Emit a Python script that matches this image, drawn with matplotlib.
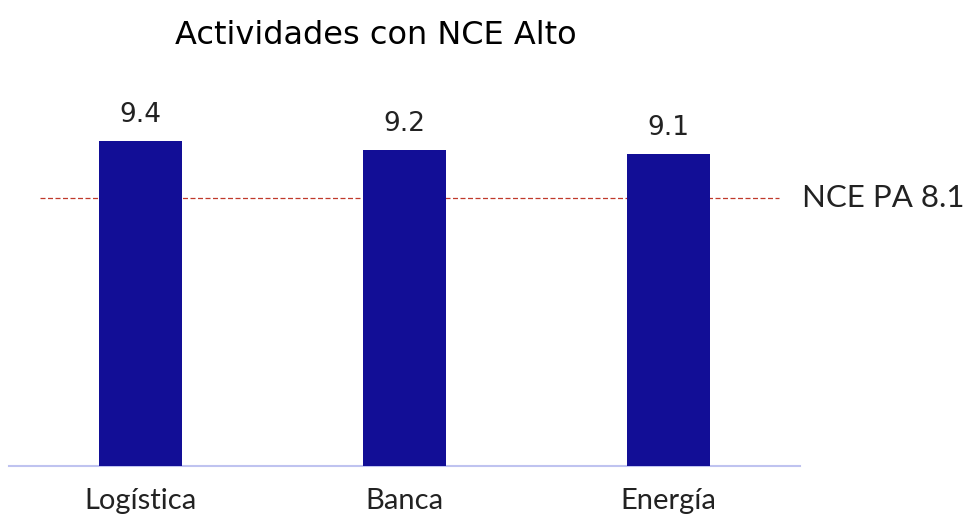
import matplotlib.pyplot as plt

# datos del gráfico
categorias = ["Logística", "Banca", "Energía"]
valores = [9.4, 9.2, 9.1]
nce_pa = 8.1
titulo = "Actividades con NCE Alto"

color_barra = "#120E96"
color_linea = "#C0392B"

fig = plt.figure(figsize=(9.68, 5.23), dpi=100)
ax = fig.add_axes([0.0093, 0.1096, 0.817, 0.713])

x = list(range(len(categorias)))
ax.bar(x, valores, width=0.315, color=color_barra, zorder=3)

for xi, v in zip(x, valores):
    ax.text(xi, v + 0.3, f"{v:.1f}", ha="center", va="bottom",
            fontsize=19, color="#222222", family="DejaVu Sans")

# línea de referencia
ax.hlines(nce_pa, -0.383, 2.42, colors=color_linea, linestyles=(0, (4, 2)),
          linewidth=0.9, zorder=2)
ax.text(2.51, nce_pa, f"NCE PA {nce_pa}", ha="left", va="center",
        fontsize=22.5, color="#222222", family="Lato")

ax.set_xlim(-0.5, 2.5)
ax.set_ylim(2, 10.5)
ax.set_xticks(x)
ax.set_xticklabels(categorias, fontsize=21, family="Lato", color="#222222")
ax.tick_params(axis="x", length=0, pad=16)
ax.set_yticks([])

for s in ["top", "right", "left"]:
    ax.spines[s].set_visible(False)
ax.spines["bottom"].set_color("#BFC3F0")
ax.spines["bottom"].set_linewidth(1.5)

fig.text(0.388, 0.933, titulo, ha="center", va="center", fontsize=23,
         family="DejaVu Sans", color="black")

fig.savefig("out.png", dpi=100)
